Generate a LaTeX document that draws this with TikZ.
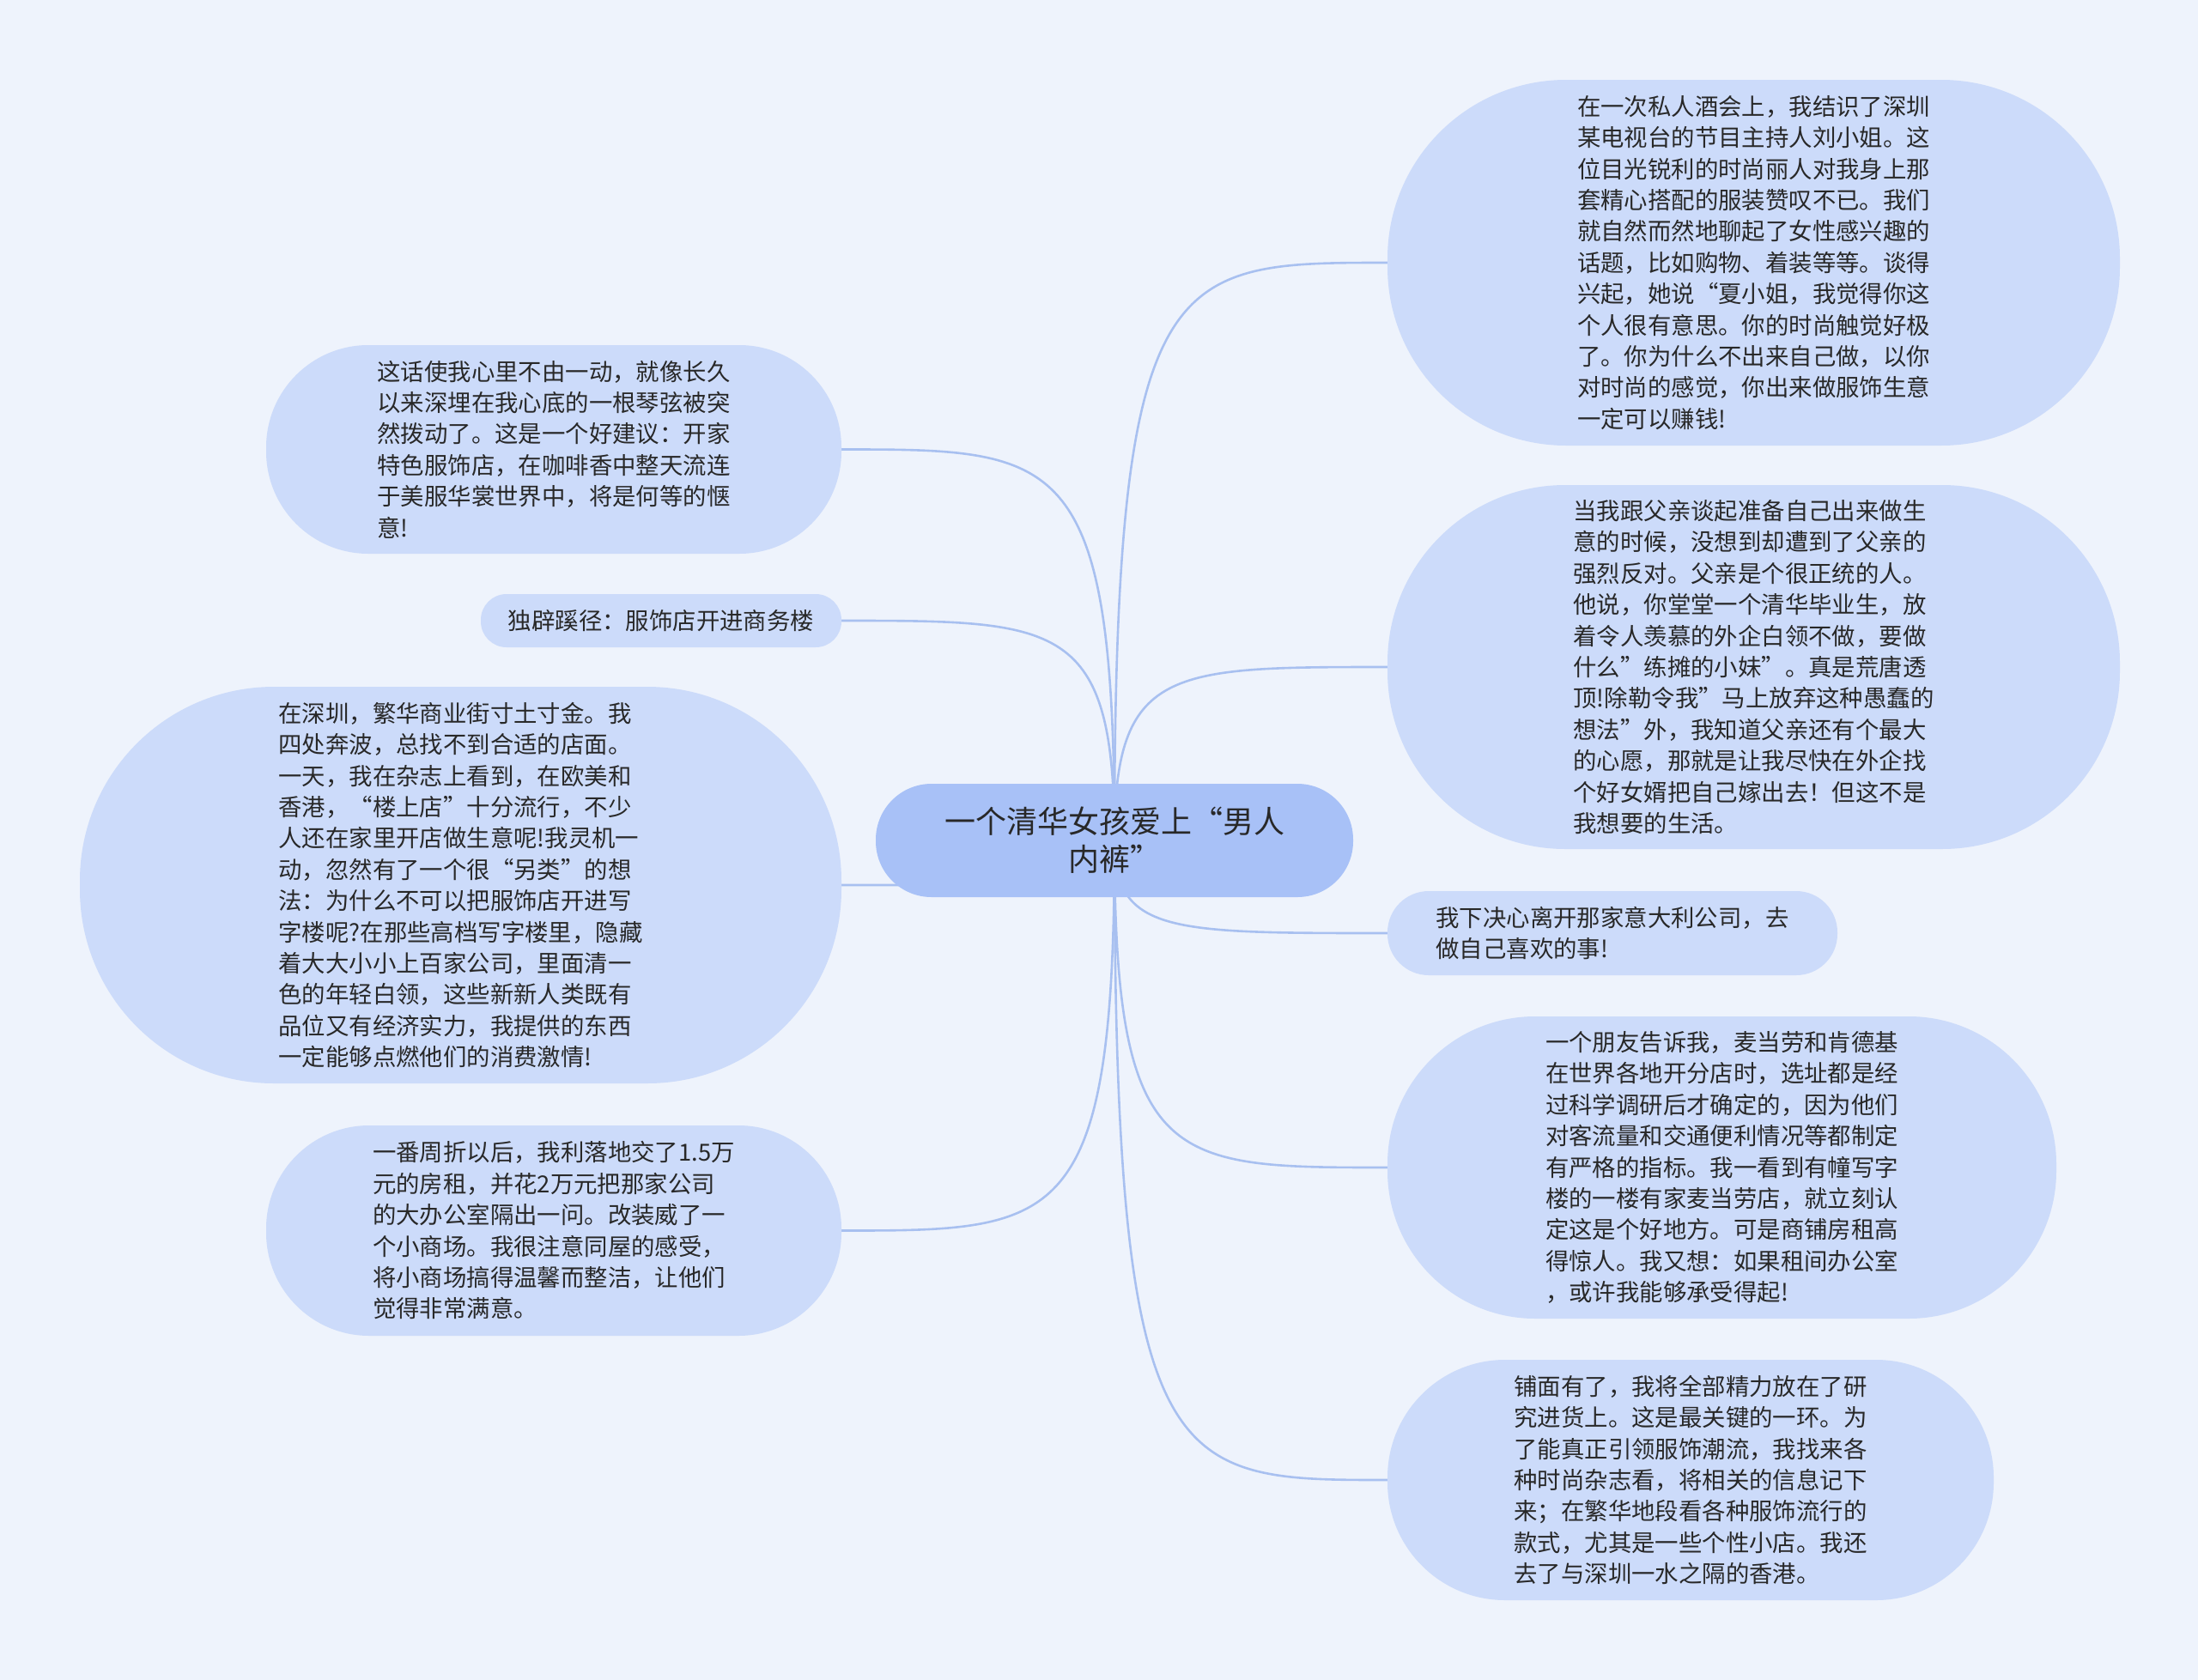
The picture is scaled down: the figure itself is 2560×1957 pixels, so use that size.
\documentclass[tikz,border=0pt]{standalone}
\usepackage{fontspec}
\setmainfont{Noto Sans CJK SC}
\usetikzlibrary{calc,backgrounds}
\definecolor{bgc}{RGB}{238,243,252}
\definecolor{leaf}{RGB}{204,219,250}
\definecolor{rootc}{RGB}{168,193,247}
\definecolor{linec}{RGB}{168,192,240}
\definecolor{txt}{RGB}{40,40,40}
\begin{document}
\begin{tikzpicture}[x=1pt,y=-1pt,
  leafbox/.style={fill=leaf, align=left, text=txt, inner sep=0pt,
    font=\fontsize{27.4}{36.4}\selectfont},
  rootbox/.style={fill=rootc, align=center, text=txt, inner sep=0pt,
    font=\fontsize{36}{44}\selectfont, minimum width=556pt, minimum height=132pt, rounded corners=65pt},
  link/.style={draw=linec, line width=2.6pt}]
\useasboundingbox (0,0) rectangle (2560,1957);

\node[rootbox] (c) at (1298,979) {一个清华女孩爱上“男人\\内裤”};

\node[leafbox, minimum width=853pt, minimum height=426pt, rounded corners=208pt] (r1) at (2042.5,306) {在一次私人酒会上，我结识了深圳\\某电视台的节目主持人刘小姐。这\\位目光锐利的时尚丽人对我身上那\\套精心搭配的服装赞叹不已。我们\\就自然而然地聊起了女性感兴趣的\\话题，比如购物、着装等等。谈得\\兴起，她说“夏小姐，我觉得你这\\个人很有意思。你的时尚触觉好极\\了。你为什么不出来自己做，以你\\对时尚的感觉，你出来做服饰生意\\一定可以赚钱!};

\node[leafbox, minimum width=853pt, minimum height=424pt, rounded corners=207pt] (r2) at (2042.5,777) {当我跟父亲谈起准备自己出来做生\\意的时候，没想到却遭到了父亲的\\强烈反对。父亲是个很正统的人。\\他说，你堂堂一个清华毕业生，放\\着令人羡慕的外企白领不做，要做\\什么”练摊的小妹”。真是荒唐透\\顶!除勒令我”马上放弃这种愚蠢的\\想法”外，我知道父亲还有个最大\\的心愿，那就是让我尽快在外企找\\个好女婿把自己嫁出去！但这不是\\我想要的生活。};

\node[leafbox, minimum width=524pt, minimum height=98pt, rounded corners=48pt] (r3) at (1878,1087) {我下决心离开那家意大利公司，去\\做自己喜欢的事!};

\node[leafbox, minimum width=779pt, minimum height=352pt, rounded corners=172pt] (r4) at (2005.5,1360) {一个朋友告诉我，麦当劳和肯德基\\在世界各地开分店时，选址都是经\\过科学调研后才确定的，因为他们\\对客流量和交通便利情况等都制定\\有严格的指标。我一看到有幢写字\\楼的一楼有家麦当劳店，就立刻认\\定这是个好地方。可是商铺房租高\\得惊人。我又想：如果租间办公室\\，或许我能够承受得起!};

\node[leafbox, minimum width=706pt, minimum height=280pt, rounded corners=137pt] (r5) at (1969,1724) {铺面有了，我将全部精力放在了研\\究进货上。这是最关键的一环。为\\了能真正引领服饰潮流，我找来各\\种时尚杂志看，将相关的信息记下\\来；在繁华地段看各种服饰流行的\\款式，尤其是一些个性小店。我还\\去了与深圳一水之隔的香港。};

\node[leafbox, minimum width=670pt, minimum height=243pt, rounded corners=119pt] (l1) at (645,523.5) {这话使我心里不由一动，就像长久\\以来深埋在我心底的一根琴弦被突\\然拨动了。这是一个好建议：开家\\特色服饰店，在咖啡香中整天流连\\于美服华裳世界中，将是何等的惬\\意!};

\node[leafbox, minimum width=420pt, minimum height=62pt, rounded corners=30pt] (l2) at (770,723) {独辟蹊径：服饰店开进商务楼};

\node[leafbox, minimum width=887pt, minimum height=462pt, rounded corners=226pt] (l3) at (536.5,1031) {在深圳，繁华商业街寸土寸金。我\\四处奔波，总找不到合适的店面。\\一天，我在杂志上看到，在欧美和\\香港，“楼上店”十分流行，不少\\人还在家里开店做生意呢!我灵机一\\动，忽然有了一个很“另类”的想\\法：为什么不可以把服饰店开进写\\字楼呢?在那些高档写字楼里，隐藏\\着大大小小上百家公司，里面清一\\色的年轻白领，这些新新人类既有\\品位又有经济实力，我提供的东西\\一定能够点燃他们的消费激情!};

\node[leafbox, minimum width=670pt, minimum height=245pt, rounded corners=120pt] (l4) at (645,1433.5) {一番周折以后，我利落地交了1.5万\\元的房租，并花2万元把那家公司\\的大办公室隔出一问。改装威了一\\个小商场。我很注意同屋的感受，\\将小商场搞得温馨而整洁，让他们\\觉得非常满意。};

\begin{scope}[on background layer]
\fill[bgc] (0,0) rectangle (2560,1957);
\foreach \n/\a in {r1/west,r2/west,r3/west,r4/west,r5/west,l1/east,l2/east,l3/east,l4/east}{
  \draw[link] (c.center) .. controls (c.center |- \n.\a) and ($(c.center |- \n.\a)!0.2!(\n.\a)$) .. (\n.\a);
}
\end{scope}
\end{tikzpicture}
\end{document}
